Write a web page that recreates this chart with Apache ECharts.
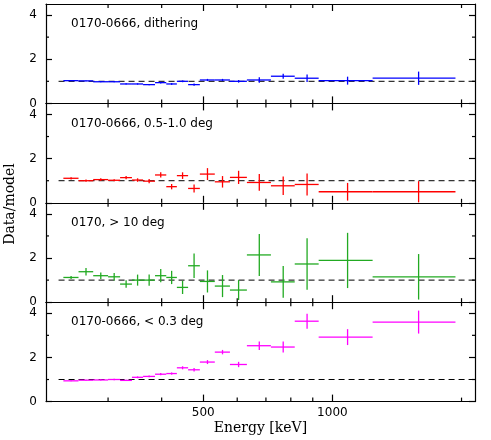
<!DOCTYPE html>
<html>
<head>
<meta charset="utf-8">
<script src="https://cdn.jsdelivr.net/npm/echarts@6/dist/echarts.min.js"></script>
<style>
  html, body { margin: 0; background: #fff; }
  #chart { width: 491px; height: 440px; }
</style>
</head>
<body>
<div id="chart"></div>
<script>
// energy bin edges [keV], shared by all four panels
const binEdges = [236, 256, 277, 300, 320, 341, 362, 386, 410, 434, 461, 491, 532, 577, 632, 719, 817, 929, 1241, 1936];

const panelLabels = ["0170-0666, dithering", "0170-0666, 0.5-1.0 deg", "0170, > 10 deg", "0170-0666, < 0.3 deg"];
const panelColors = ["#0000ff", "#ff0000", "#22aa22", "#ff00ff"];

const ditherVal = [1.03, 1.02, 0.98, 0.98, 0.88, 0.88, 0.85, 0.94, 0.88, 1.0, 0.85, 1.06, 1.06, 1.0, 1.06, 1.23, 1.14, 1.03, 1.14];
const ditherErr = [0.02, 0.02, 0.02, 0.02, 0.03, 0.03, 0.03, 0.04, 0.04, 0.04, 0.05, 0.05, 0.05, 0.06, 0.12, 0.11, 0.17, 0.18, 0.3];

const midVal = [1.11, 1.0, 1.05, 1.02, 1.14, 1.03, 0.98, 1.26, 0.73, 1.23, 0.65, 1.3, 0.95, 1.15, 0.92, 0.77, 0.83, 0.5, 0.5];
const midErr = [0.05, 0.05, 0.06, 0.05, 0.07, 0.08, 0.1, 0.12, 0.12, 0.15, 0.18, 0.27, 0.26, 0.3, 0.38, 0.42, 0.5, 0.4, 0.48];

const farVal = [1.12, 1.38, 1.2, 1.15, 0.82, 1.0, 1.0, 1.2, 1.12, 0.67, 1.65, 0.94, 0.73, 0.55, 2.14, 0.92, 1.73, 1.89, 1.15];
const farErr = [0.07, 0.17, 0.15, 0.17, 0.17, 0.25, 0.25, 0.3, 0.3, 0.3, 0.55, 0.5, 0.5, 0.45, 0.95, 0.72, 1.17, 1.25, 1.03];

const nearVal = [0.94, 0.97, 0.98, 1.0, 0.96, 1.1, 1.14, 1.24, 1.27, 1.53, 1.44, 1.79, 2.24, 1.68, 2.53, 2.47, 3.64, 2.92, 3.6];
const nearErr = [0.02, 0.02, 0.03, 0.03, 0.03, 0.04, 0.04, 0.05, 0.05, 0.07, 0.08, 0.09, 0.1, 0.12, 0.19, 0.25, 0.34, 0.36, 0.52];

const panelVals = [ditherVal, midVal, farVal, nearVal];
const panelErrs = [ditherErr, midErr, farErr, nearErr];

// model = 1 reference line
const refLineE = [230, 2150];
const refLineY = [1, 1];

const xRange = [215, 2150];
const yRange = [0, 4.5];
const xMajorTicks = [500, 1000];
const xMinorTicks = [300, 400, 600, 700, 800, 900, 2000];
const yMajorTicks = [0, 2, 4];
const yMinorTicks = [1, 3];

const gridTops = [4, 103.4, 202.8, 302.2];
const gridHeight = 99.4;
const font = "DejaVu Sans";
const frameStyle = { color: "#000", width: 1.2 };

const renderCross = (params, api) => {
  const lo = api.value(0);
  const hi = api.value(1);
  const y = api.value(2);
  const err = api.value(3);
  const mid = (lo + hi) / 2;
  const a = api.coord([lo, y]);
  const b = api.coord([hi, y]);
  const c = api.coord([mid, y - err]);
  const d = api.coord([mid, y + err]);
  const style = { stroke: api.visual("color"), lineWidth: 1.3 };
  return {
    type: "group",
    children: [
      { type: "line", shape: { x1: a[0], y1: a[1], x2: b[0], y2: b[1] }, style },
      { type: "line", shape: { x1: c[0], y1: c[1], x2: d[0], y2: d[1] }, style }
    ]
  };
};

const grid = [];
const xAxis = [];
const yAxis = [];
const series = [];
const title = [];

gridTops.forEach((top, i) => {
  grid.push({ left: 46, right: 16, top: top, height: gridHeight });

  const isLast = i === gridTops.length - 1;

  ["bottom", "top"].forEach((pos) => {
    const labelled = isLast && pos === "bottom";
    xAxis.push({
      type: "log",
      gridIndex: i,
      min: xRange[0],
      max: xRange[1],
      position: pos,
      splitLine: { show: false },
      axisLine: { show: true, onZero: false, lineStyle: frameStyle },
      axisTick: { show: true, inside: true, length: 7, customValues: xMajorTicks, lineStyle: frameStyle },
      axisLabel: {
        show: labelled,
        customValues: xMajorTicks,
        formatter: (v) => String(Math.round(v)),
        margin: 5,
        fontFamily: font,
        fontSize: 12,
        color: "#000"
      },
      name: labelled ? "Energy [keV]" : "",
      nameLocation: "middle",
      nameGap: 20,
      nameTextStyle: { fontFamily: "DejaVu Serif", fontSize: 14, color: "#000" }
    });
  });

  ["left", "right"].forEach((pos) => {
    yAxis.push({
      type: "value",
      gridIndex: i,
      min: yRange[0],
      max: yRange[1],
      position: pos,
      splitLine: { show: false },
      axisLine: { show: true, onZero: false, lineStyle: frameStyle },
      axisTick: { show: true, inside: true, length: 6, customValues: yMajorTicks, lineStyle: frameStyle },
      axisLabel: {
        show: pos === "left",
        customValues: yMajorTicks,
        margin: 9,
        fontFamily: font,
        fontSize: 12,
        color: "#000"
      }
    });
  });

  const axes = { xAxisIndex: i * 2, yAxisIndex: i * 2 };
  const data = panelVals[i].map((v, k) => [binEdges[k], binEdges[k + 1], v, panelErrs[i][k]]);

  series.push({
    ...axes,
    type: "line",
    data: refLineE.map((e, k) => [e, refLineY[k]]),
    symbol: "none",
    silent: true,
    lineStyle: { color: "#000", width: 1, type: [6, 4] },
    z: 1
  });
  series.push({
    ...axes,
    type: "custom",
    dimensions: ["lo", "hi", "ratio", "err"],
    encode: { x: [0, 1], y: [2] },
    data: data,
    itemStyle: { color: panelColors[i] },
    renderItem: renderCross,
    z: 2
  });

  title.push({
    text: panelLabels[i],
    left: 71,
    top: top + 14,
    padding: 0,
    textStyle: { fontFamily: font, fontSize: 12, fontWeight: "normal", color: "#000" }
  });
});

const chart = echarts.init(document.getElementById("chart"), null, { renderer: "canvas" });
chart.setOption({
  animation: false,
  backgroundColor: "#fff",
  title,
  grid,
  xAxis,
  yAxis,
  series,
  graphic: [
    {
      id: "ylabel",
      type: "text",
      x: 10,
      y: 204,
      rotation: Math.PI / 2,
      style: {
        text: "Data/model",
        fontFamily: "DejaVu Serif",
        fontSize: 14,
        fill: "#000",
        align: "center",
        verticalAlign: "middle"
      }
    }
  ]
});

// short minor ticks on all four frame edges, placed through each panel's own axes
const tickStyle = { stroke: "#000", lineWidth: 1.2 };
const minorTicks = [];
gridTops.forEach((top, i) => {
  const xl = chart.convertToPixel({ xAxisIndex: i * 2 }, xRange[0]);
  const xr = chart.convertToPixel({ xAxisIndex: i * 2 }, xRange[1]);
  const yb = chart.convertToPixel({ yAxisIndex: i * 2 }, yRange[0]);
  const yt = chart.convertToPixel({ yAxisIndex: i * 2 }, yRange[1]);
  xMinorTicks.forEach((v, k) => {
    const x = chart.convertToPixel({ xAxisIndex: i * 2 }, v);
    minorTicks.push({ id: `xb${i}-${k}`, type: "line", silent: true, z: 10, shape: { x1: x, y1: yb, x2: x, y2: yb - 4 }, style: tickStyle });
    minorTicks.push({ id: `xt${i}-${k}`, type: "line", silent: true, z: 10, shape: { x1: x, y1: yt, x2: x, y2: yt + 4 }, style: tickStyle });
  });
  yMinorTicks.forEach((v, k) => {
    const y = chart.convertToPixel({ yAxisIndex: i * 2 }, v);
    minorTicks.push({ id: `yl${i}-${k}`, type: "line", silent: true, z: 10, shape: { x1: xl, y1: y, x2: xl + 3, y2: y }, style: tickStyle });
    minorTicks.push({ id: `yr${i}-${k}`, type: "line", silent: true, z: 10, shape: { x1: xr, y1: y, x2: xr - 3, y2: y }, style: tickStyle });
  });
});
chart.setOption({ graphic: minorTicks });
</script>
</body>
</html>
